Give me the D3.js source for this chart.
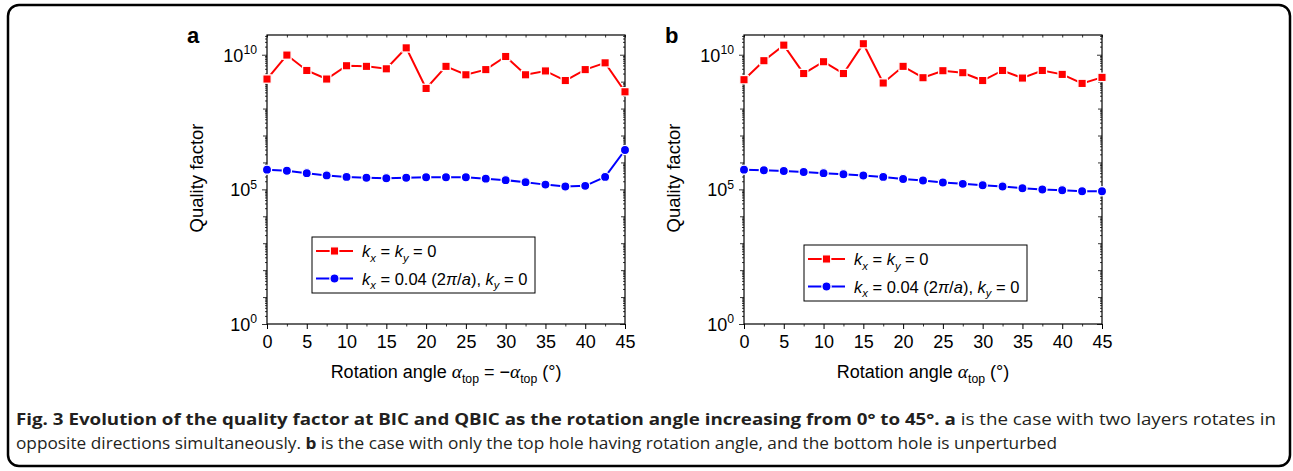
<!DOCTYPE html>
<html>
<head>
<meta charset="utf-8">
<script src="https://cdn.jsdelivr.net/npm/d3@7"></script>
<style>
body{margin:0;background:#fff}
svg text{font-family:"Liberation Sans",Arial,Helvetica,sans-serif;fill:#000}
</style>
</head>
<body>
<div id="chart"></div>
<script>
// quality factor vs rotation angle, two panels

const W = 1293, H = 471

// rotation angle (deg)
const angles = [0, 2.5, 5, 7.5, 10, 12.5, 15, 17.5, 20, 22.5, 25, 27.5, 30, 32.5, 35, 37.5, 40, 42.5, 45]

// panel a : both layers rotate in opposite directions
const qA_bic  = [1.25e9, 9.7e9, 2.6e9, 1.25e9, 3.9e9, 3.7e9, 3.0e9, 1.8e10, 5.6e8, 3.7e9, 1.8e9, 2.8e9, 8.6e9, 1.8e9, 2.5e9, 1.1e9, 2.8e9, 5.0e9, 4.2e8]
const qA_qbic = [5.4e5, 4.9e5, 4.0e5, 3.3e5, 2.9e5, 2.7e5, 2.6e5, 2.7e5, 2.8e5, 2.8e5, 2.8e5, 2.5e5, 2.2e5, 1.85e5, 1.5e5, 1.27e5, 1.35e5, 2.9e5, 2.9e6]

// panel b : only top hole rotates
const qB_bic  = [1.18e9, 6.0e9, 2.27e10, 2.0e9, 5.5e9, 2.0e9, 2.56e10, 8.9e8, 3.7e9, 1.4e9, 2.55e9, 2.15e9, 1.1e9, 2.6e9, 1.36e9, 2.6e9, 1.86e9, 8.6e8, 1.44e9]
const qB_qbic = [5.4e5, 5.1e5, 4.8e5, 4.4e5, 4.0e5, 3.65e5, 3.26e5, 2.9e5, 2.44e5, 2.13e5, 1.8e5, 1.6e5, 1.43e5, 1.28e5, 1.1e5, 9.9e4, 9.3e4, 8.5e4, 8.5e4]

const xTicks = [0, 5, 10, 15, 20, 25, 30, 35, 40, 45]
const xMinor = [2.5, 7.5, 12.5, 17.5, 22.5, 27.5, 32.5, 37.5, 42.5]
const yExps = [0, 5, 10]

const svg = d3.select('#chart')
    .append('svg')
    .attr('width', W)
    .attr('height', H)

// outer rounded frame
svg.append('rect')
    .attr('x', 8).attr('y', 5)
    .attr('width', 1282).attr('height', 461)
    .attr('rx', 11)
    .style('fill', 'none')
    .style('stroke', '#000')
    .style('stroke-width', 2.5)

// writes a run of text pieces: [str, kind] kind = '', 'i', 'sub', 'isub', 'sup', 'b', 'a'
function rich(t, parts, size)
{
    var shift = 0
    parts.forEach(function(p){
        var s = p[0], k = p[1] || ''
        var ts = t.append('tspan').text(s)
        var want = 0
        if (k == 'sub' || k == 'isub') want = size*0.3
        if (k == 'sup') want = -size*0.42
        if (want != shift) { ts.attr('dy', want - shift); shift = want }
        if (k == 'sub' || k == 'isub' || k == 'sup') ts.style('font-size', (size*0.68)+'px')
        if (k == 'i' || k == 'isub') ts.style('font-style', 'italic')
        if (k == 'b') ts.style('font-weight', 'bold')
        if (k == 'a') ts.style('font-family', '"Liberation Serif","DejaVu Serif",serif').style('font-style', 'italic').style('font-size', (size*1.08)+'px')
    })
}

function drawPanel(o)
{
    var x = d3.scaleLinear().domain([0, 45]).range([o.left, o.left + 358])
    var y = d3.scaleLog().domain([1, 5.4e10]).range([324, 35])
    var g = svg.append('g')

    // y minor ticks, per decade and 2..9 inside each decade
    var decTicks = [], subTicks = []
    for (var d = 0; d <= 10; d++) {
        if (yExps.indexOf(d) == -1) decTicks.push(Math.pow(10, d))
        for (var m = 2; m <= 9; m++) {
            var v = m*Math.pow(10, d)
            if (v < 5.4e10) subTicks.push(v)
        }
    }
    var majors = yExps.map(function(e){ return Math.pow(10, e) })

    function axis(a, vals, size, fmt) {
        return a.tickValues(vals).tickSize(size).tickSizeOuter(0).tickFormat(fmt || '')
    }

    var parts = [
        [d3.axisLeft(y), majors, 5, 'translate('+o.left+',0)'],
        [d3.axisLeft(y), decTicks, 4, 'translate('+o.left+',0)'],
        [d3.axisLeft(y), subTicks, 2, 'translate('+o.left+',0)'],
        [d3.axisRight(y), majors, -5, 'translate('+(o.left+358)+',0)'],
        [d3.axisRight(y), decTicks, -4, 'translate('+(o.left+358)+',0)'],
        [d3.axisRight(y), subTicks, -2, 'translate('+(o.left+358)+',0)'],
        [d3.axisBottom(x), xMinor, 2.5, 'translate(0,324)'],
        [d3.axisTop(x), xTicks.concat(xMinor), -2.5, 'translate(0,35)']
    ]
    parts.forEach(function(p){
        var ag = g.append('g').attr('transform', p[3]).call(axis(p[0], p[1], p[2]))
        ag.select('.domain').remove()
        ag.selectAll('line').style('stroke', '#000').style('stroke-width', 0.8)
    })

    // bottom major ticks with labels
    var xb = g.append('g')
        .attr('transform', 'translate(0,324)')
        .call(d3.axisBottom(x).tickValues(xTicks).tickSize(5).tickSizeOuter(0).tickPadding(6).tickFormat(d3.format('d')))
    xb.select('.domain').remove()
    xb.selectAll('line').style('stroke', '#000').style('stroke-width', 1)
    xb.selectAll('text').style('font-size', '18px').style('font-family', '"Liberation Sans",Arial,sans-serif').attr('fill', '#000')

    // y labels as powers of ten
    yExps.forEach(function(e){
        var t = g.append('text')
            .attr('x', o.left - 10)
            .attr('y', y(Math.pow(10, e)) + 7)
            .attr('text-anchor', 'end')
            .style('font-size', '18px')
        rich(t, [['10'], [String(e), 'sup']], 18)
    })

    // plot box
    g.append('rect')
        .attr('x', o.left).attr('y', 35)
        .attr('width', 358).attr('height', 289)
        .style('fill', 'none').style('stroke', '#000').style('stroke-width', 1.2)

    var line = d3.line().x(function(d){ return x(d[0]) }).y(function(d){ return y(d[1]) })

    var series = [
        {vals: o.bic, color: '#ff0000', shape: 'sq'},
        {vals: o.qbic, color: '#0000ff', shape: 'ci'}
    ]
    series.forEach(function(s){
        var pts = angles.map(function(a, i){ return [a, s.vals[i]] })
        g.append('path')
            .attr('d', line(pts))
            .style('fill', 'none')
            .style('stroke', s.color)
            .style('stroke-width', 2)
        drawMarks(g, pts.map(function(p){ return [x(p[0]), y(p[1])] }), s)
    })

    // legend
    var lg = g.append('g')
    lg.append('rect')
        .attr('x', o.legX).attr('y', o.legY)
        .attr('width', 223).attr('height', 56)
        .style('fill', '#fff').style('stroke', '#000').style('stroke-width', 1)
    var labels = [
        [['k', 'i'], ['x', 'isub'], [' = '], ['k', 'i'], ['y', 'isub'], [' = 0']],
        [['k', 'i'], ['x', 'isub'], [' = 0.04 (2'], ['π', 'i'], ['/'], ['a', 'i'], ['), '], ['k', 'i'], ['y', 'isub'], [' = 0']]
    ]
    series.forEach(function(s, i){
        var cy = o.legY + 14 + i*27.5
        lg.append('line')
            .attr('x1', o.legX + 4).attr('x2', o.legX + 41)
            .attr('y1', cy).attr('y2', cy)
            .style('stroke', s.color).style('stroke-width', 2)
        drawMarks(lg, [[o.legX + 22.5, cy]], s)
        var t = lg.append('text')
            .attr('x', o.legX + 50)
            .attr('y', cy + 6)
            .style('font-size', '16.5px')
        rich(t, labels[i], 16.5)
    })

    // axis titles
    g.append('text')
        .attr('transform', 'translate(' + o.yTitleX + ',178) rotate(-90)')
        .attr('text-anchor', 'middle')
        .style('font-size', '18.5px')
        .text('Quality factor')

    var xt = g.append('text')
        .attr('x', o.left + 179)
        .attr('y', 378)
        .attr('text-anchor', 'middle')
        .style('font-size', '18px')
    rich(xt, o.xTitle, 18)

    g.append('text')
        .attr('x', o.tagX).attr('y', 43)
        .style('font-size', '22px')
        .style('font-weight', 'bold')
        .text(o.tag)
}

function drawMarks(g, pts, s)
{
    if (s.shape == 'sq') {
        g.selectAll(null).data(pts).enter().append('rect')
            .attr('x', function(d){ return d[0] - 4.2 })
            .attr('y', function(d){ return d[1] - 4.2 })
            .attr('width', 8.4).attr('height', 8.4)
            .style('fill', s.color).style('stroke', '#fff').style('stroke-width', 1.3)
    } else {
        g.selectAll(null).data(pts).enter().append('circle')
            .attr('cx', function(d){ return d[0] })
            .attr('cy', function(d){ return d[1] })
            .attr('r', 4.6)
            .style('fill', s.color).style('stroke', '#fff').style('stroke-width', 1.3)
    }
}

drawPanel({
    left: 267, bic: qA_bic, qbic: qA_qbic,
    legX: 312, legY: 237, yTitleX: 203, tag: 'a', tagX: 187,
    xTitle: [['Rotation angle '], ['α', 'a'], ['top', 'sub'], [' = −'], ['α', 'a'], ['top', 'sub'], [' (°)']]
})
drawPanel({
    left: 744, bic: qB_bic, qbic: qB_qbic,
    legX: 804, legY: 245, yTitleX: 680, tag: 'b', tagX: 665,
    xTitle: [['Rotation angle '], ['α', 'a'], ['top', 'sub'], [' (°)']]
})

// caption
var cap = svg.append('g')
    .style('font-size', '16.8px')
var c1 = cap.append('text')
    .attr('x', 16).attr('y', 425)
    .attr('textLength', 1260).attr('lengthAdjust', 'spacingAndGlyphs')
    .style('font-family', '"Open Sans","Noto Sans",sans-serif')
    .style('fill', '#231f20')
rich(c1, [['Fig. 3 Evolution of the quality factor at BIC and QBIC as the rotation angle increasing from 0° to 45°. a', 'b'], [' is the case with two layers rotates in']], 16.8)
var c2 = cap.append('text')
    .attr('x', 16).attr('y', 449)
    .attr('textLength', 1041).attr('lengthAdjust', 'spacingAndGlyphs')
    .style('font-family', '"Open Sans","Noto Sans",sans-serif')
    .style('fill', '#231f20')
rich(c2, [['opposite directions simultaneously. '], ['b', 'b'], [' is the case with only the top hole having rotation angle, and the bottom hole is unperturbed']], 16.8)
</script>
</body>
</html>
